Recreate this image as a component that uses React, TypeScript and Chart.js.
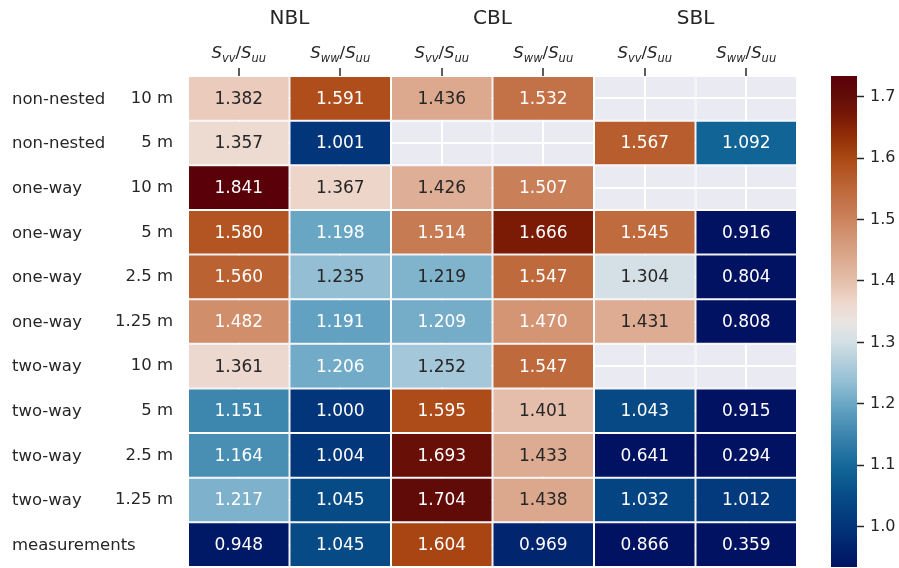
import React, { useEffect, useRef } from 'react';
import { Chart, registerables } from 'chart.js';

Chart.register(...registerables);

// ---------------- data ----------------
const GROUPS = ['NBL', 'CBL', 'SBL'];
const COLUMN_KEYS = ['NBL Svv/Suu', 'NBL Sww/Suu', 'CBL Svv/Suu', 'CBL Sww/Suu', 'SBL Svv/Suu', 'SBL Sww/Suu'];
const COLUMN_SUBSCRIPTS = ['vv', 'ww', 'vv', 'ww', 'vv', 'ww'];
const NESTING = ['non-nested', 'non-nested', 'one-way', 'one-way', 'one-way', 'one-way', 'two-way', 'two-way', 'two-way', 'two-way', 'measurements'];
const RESOLUTIONS = ['10 m', '5 m', '10 m', '5 m', '2.5 m', '1.25 m', '10 m', '5 m', '2.5 m', '1.25 m', ''];

const NBL_SVV = [1.382, 1.357, 1.841, 1.580, 1.560, 1.482, 1.361, 1.151, 1.164, 1.217, 0.948];
const NBL_SWW = [1.591, 1.001, 1.367, 1.198, 1.235, 1.191, 1.206, 1.000, 1.004, 1.045, 1.045];
const CBL_SVV = [1.436, null, 1.426, 1.514, 1.219, 1.209, 1.252, 1.595, 1.693, 1.704, 1.604];
const CBL_SWW = [1.532, null, 1.507, 1.666, 1.547, 1.470, 1.547, 1.401, 1.433, 1.438, 0.969];
const SBL_SVV = [null, 1.567, null, 1.545, 1.304, 1.431, null, 1.043, 0.641, 1.032, 0.866];
const SBL_SWW = [null, 1.092, null, 0.916, 0.804, 0.808, null, 0.915, 0.294, 1.012, 0.359];
const COLUMN_VALUES: (number | null)[][] = [NBL_SVV, NBL_SWW, CBL_SVV, CBL_SWW, SBL_SVV, SBL_SWW];

const COLORBAR_TICKS = [1.0, 1.1, 1.2, 1.3, 1.4, 1.5, 1.6, 1.7];
const VMIN = 0.934;
const VMAX = 1.734;

// ---------------- colormap (vik-like) ----------------
const STOPS: [number, number, number, number][] = [
  [0.00, 0, 18, 97],
  [0.08, 2, 52, 121],
  [0.14, 6, 74, 134],
  [0.20, 17, 101, 151],
  [0.27, 60, 133, 174],
  [0.33, 104, 166, 196],
  [0.38, 150, 192, 213],
  [0.46, 212, 224, 230],
  [0.50, 234, 229, 226],
  [0.54, 238, 214, 203],
  [0.58, 229, 192, 172],
  [0.63, 219, 168, 141],
  [0.69, 207, 140, 104],
  [0.72, 200, 125, 85],
  [0.77, 190, 104, 58],
  [0.83, 172, 74, 22],
  [0.87, 150, 50, 8],
  [0.92, 120, 24, 6],
  [0.96, 98, 12, 8],
  [1.00, 89, 0, 8],
];

function rgbAt(v: number): [number, number, number] {
  let t = (v - VMIN) / (VMAX - VMIN);
  t = Math.max(0, Math.min(1, t));
  for (let i = 0; i < STOPS.length - 1; i++) {
    const a = STOPS[i];
    const b = STOPS[i + 1];
    if (t >= a[0] && t <= b[0]) {
      const f = (t - a[0]) / (b[0] - a[0] || 1);
      return [a[1] + (b[1] - a[1]) * f, a[2] + (b[2] - a[2]) * f, a[3] + (b[3] - a[3]) * f];
    }
  }
  const l = STOPS[STOPS.length - 1];
  return [l[1], l[2], l[3]];
}
function css(rgb: [number, number, number]) {
  return `rgb(${Math.round(rgb[0])},${Math.round(rgb[1])},${Math.round(rgb[2])})`;
}
function textColorFor(rgb: [number, number, number]) {
  const lin = (c: number) => {
    const s = c / 255;
    return s <= 0.03928 ? s / 12.92 : Math.pow((s + 0.055) / 1.055, 2.4);
  };
  const L = 0.2126 * lin(rgb[0]) + 0.7152 * lin(rgb[1]) + 0.0722 * lin(rgb[2]);
  return L > 0.408 ? '#262626' : '#ffffff';
}

const FONT = 'DejaVu Sans';
const DARK = '#262626';

const zeroPad = (s: any) => {
  s.paddingTop = 0;
  s.paddingBottom = 0;
  s.paddingLeft = 0;
  s.paddingRight = 0;
};

const annotatePlugin = {
  id: 'annotate',
  beforeDraw(chart: any) {
    const { ctx, chartArea } = chart;
    ctx.save();
    ctx.fillStyle = '#eaeaf2';
    ctx.fillRect(chartArea.left, chartArea.top, chartArea.right - chartArea.left, chartArea.bottom - chartArea.top);
    ctx.restore();
  },
  afterDatasetsDraw(chart: any) {
    const { ctx } = chart;
    ctx.save();
    ctx.font = `17px "${FONT}"`;
    ctx.textAlign = 'center';
    ctx.textBaseline = 'middle';
    chart.data.datasets.forEach((_ds: any, r: number) => {
      const meta = chart.getDatasetMeta(r);
      meta.data.forEach((bar: any, c: number) => {
        const v = COLUMN_VALUES[c][r];
        if (v == null) return;
        const p = bar.getCenterPoint();
        ctx.fillStyle = textColorFor(rgbAt(v));
        ctx.fillText(v.toFixed(3), p.x, p.y + 1);
      });
    });
    ctx.restore();
  },
  afterDraw(chart: any) {
    const { ctx } = chart;
    const xs = chart.scales.x;
    const ys = chart.scales.y;
    ctx.save();
    // row labels (nesting part)
    ctx.font = `16.5px "${FONT}"`;
    ctx.fillStyle = DARK;
    ctx.textAlign = 'left';
    ctx.textBaseline = 'middle';
    NESTING.forEach((lab, i) => {
      ctx.fillText(lab, 12, ys.getPixelForValue(i) + 1);
    });
    // group titles
    ctx.font = `20px "${FONT}"`;
    ctx.textAlign = 'center';
    ctx.textBaseline = 'alphabetic';
    GROUPS.forEach((g, i) => {
      const x = (xs.getPixelForValue(2 * i) + xs.getPixelForValue(2 * i + 1)) / 2;
      ctx.fillText(g, x, 24);
    });
    // column labels S_xx/S_uu
    const big = 16.5;
    const small = 11.5;
    COLUMN_SUBSCRIPTS.forEach((sub, i) => {
      const cx = xs.getPixelForValue(i);
      const pieces = [
        { t: 'S', f: `italic ${big}px "${FONT}"`, dy: 0 },
        { t: sub, f: `italic ${small}px "${FONT}"`, dy: 4 },
        { t: '/', f: `${big}px "${FONT}"`, dy: 0 },
        { t: 'S', f: `italic ${big}px "${FONT}"`, dy: 0 },
        { t: 'uu', f: `italic ${small}px "${FONT}"`, dy: 4 },
      ];
      let total = 0;
      const widths = pieces.map((p) => {
        ctx.font = p.f;
        const w = ctx.measureText(p.t).width;
        total += w;
        return w;
      });
      let x = cx - total / 2;
      ctx.textAlign = 'left';
      pieces.forEach((p, k) => {
        ctx.font = p.f;
        ctx.fillText(p.t, x, 58 + p.dy);
        x += widths[k];
      });
    });
    ctx.restore();
  },
};

export default function App() {
  const mainRef = useRef<HTMLCanvasElement>(null);
  const cbRef = useRef<HTMLCanvasElement>(null);

  useEffect(() => {
    const datasets = NESTING.map((_, r) => ({
      label: `${NESTING[r]} ${RESOLUTIONS[r]}`,
      data: COLUMN_VALUES.map(() => [r - 0.5, r + 0.5]),
      backgroundColor: COLUMN_VALUES.map((col) => (col[r] == null ? 'rgba(0,0,0,0)' : css(rgbAt(col[r] as number)))),
      borderColor: '#ffffff',
      borderWidth: 1,
      borderSkipped: false,
      inflateAmount: 0,
      barPercentage: 1,
      categoryPercentage: 1,
      grouped: false,
    }));

    const main = new Chart(mainRef.current as HTMLCanvasElement, {
      type: 'bar',
      data: { labels: COLUMN_KEYS, datasets: datasets as any },
      options: {
        responsive: false,
        animation: false,
        devicePixelRatio: 1,
        layout: { padding: { left: 0, right: 102, top: 0, bottom: 1 } },
        plugins: { legend: { display: false }, tooltip: { enabled: false } },
        scales: {
          x: {
            type: 'category',
            position: 'top',
            offset: true,
            grid: { offset: false, color: '#ffffff', lineWidth: 2, drawTicks: true, tickLength: 8, tickColor: DARK, tickWidth: 1.5 },
            border: { display: false },
            ticks: { callback: () => '', autoSkip: false, maxRotation: 0 },
            afterFit: (s: any) => { s.height = 76; zeroPad(s); },
          },
          y: {
            type: 'linear',
            min: -0.5,
            max: 10.5,
            reverse: true,
            afterBuildTicks: (s: any) => { s.ticks = NESTING.map((_, i) => ({ value: i })); },
            grid: { color: '#ffffff', lineWidth: 2, drawTicks: false },
            border: { display: false },
            ticks: {
              callback: (v: any) => RESOLUTIONS[Math.round(Number(v))],
              padding: 15,
              color: DARK,
              font: { family: FONT, size: 16.5 },
              autoSkip: false,
            },
            afterFit: (s: any) => { s.width = 188; zeroPad(s); },
          },
        },
      } as any,
      plugins: [annotatePlugin],
    });

    const cb = new Chart(cbRef.current as HTMLCanvasElement, {
      type: 'bar',
      data: {
        labels: ['colorbar'],
        datasets: [
          {
            data: [[VMIN, VMAX]] as any,
            backgroundColor: (ctx: any) => {
              const chart = ctx.chart;
              const area = chart.chartArea;
              if (!area) return '#000';
              const g = chart.ctx.createLinearGradient(0, area.bottom, 0, area.top);
              STOPS.forEach((s) => g.addColorStop(s[0], `rgb(${s[1]},${s[2]},${s[3]})`));
              return g;
            },
            borderWidth: 0,
            borderSkipped: false,
            inflateAmount: 0,
            barPercentage: 1,
            categoryPercentage: 1,
          } as any,
        ],
      },
      options: {
        responsive: false,
        animation: false,
        devicePixelRatio: 1,
        layout: { padding: { left: 31, right: 0, top: 76, bottom: 1 } },
        plugins: { legend: { display: false }, tooltip: { enabled: false } },
        scales: {
          x: { display: false },
          y: {
            position: 'right',
            min: VMIN,
            max: VMAX,
            afterBuildTicks: (s: any) => { s.ticks = COLORBAR_TICKS.map((v) => ({ value: v })); },
            grid: { drawOnChartArea: false, drawTicks: true, tickLength: 7, tickColor: DARK, tickWidth: 1.5 },
            border: { display: false },
            ticks: {
              padding: 6,
              color: DARK,
              font: { family: FONT, size: 16 },
              callback: (v: any) => Number(v).toFixed(1),
            },
            afterFit: (s: any) => { s.width = 42; zeroPad(s); },
          },
        },
      } as any,
    });

    return () => {
      main.destroy();
      cb.destroy();
    };
  }, []);

  return (
    <div style={{ position: 'absolute', left: 0, top: 0, width: 899, height: 568, background: '#ffffff' }}>
      <canvas ref={mainRef} width={899} height={568} style={{ position: 'absolute', left: 0, top: 0 }} />
      <canvas ref={cbRef} width={99} height={568} style={{ position: 'absolute', left: 800, top: 0 }} />
    </div>
  );
}
